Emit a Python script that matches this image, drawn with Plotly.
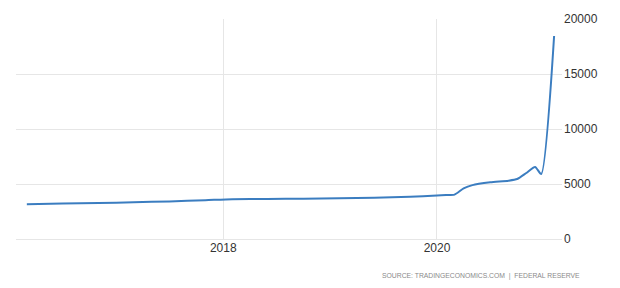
import plotly.graph_objects as go

dates = ["2016-03-01", "2016-07-01", "2016-11-01", "2017-03-01", "2017-07-01", "2017-11-01",
         "2018-02-01", "2018-06-01", "2018-10-01", "2019-02-01", "2019-06-01", "2019-10-01",
         "2020-01-01", "2020-02-01", "2020-03-01", "2020-04-01", "2020-05-01", "2020-07-01",
         "2020-09-01", "2020-10-01", "2020-11-01", "2020-12-01", "2020-12-22", "2021-02-04"]
values = [3170, 3220, 3270, 3340, 3420, 3530,
          3620, 3640, 3660, 3700, 3740, 3850,
          3950, 3990, 4030, 4600, 4900, 5150,
          5300, 5450, 6000, 6550, 5900, 18450]

x_ticks = ["2018-01-01", "2020-01-01"]
x_tick_labels = ["2018", "2020"]
y_ticks = [0, 5000, 10000, 15000, 20000]
source_text = "SOURCE: TRADINGECONOMICS.COM  |  FEDERAL RESERVE"

fig = go.Figure()
fig.add_trace(go.Scatter(x=dates, y=values, mode="lines",
                         line=dict(color="#3b7dc0", width=2, shape="spline", smoothing=0.6),
                         hoverinfo="skip"))

fig.update_layout(
    width=620, height=288,
    margin=dict(l=16, r=58, t=16, b=49),
    paper_bgcolor="white", plot_bgcolor="white",
    showlegend=False,
    font=dict(family="Liberation Sans, Arial, sans-serif", size=12, color="#333333"),
)
fig.update_xaxes(
    range=["2016-01-24", "2021-03-03"],
    tickvals=x_ticks, ticktext=x_tick_labels,
    showgrid=True, gridcolor="#e6e6e6", gridwidth=1,
    zeroline=False, showline=False, ticks="",
)
fig.update_yaxes(
    side="right", range=[0, 20000], tickvals=y_ticks, tickformat="d",
    showgrid=True, gridcolor="#e6e6e6", gridwidth=1,
    zeroline=True, zerolinecolor="#e6e6e6", zerolinewidth=1,
    showline=False, ticks="", ticklabelstandoff=1,
)
fig.add_annotation(text=source_text, xref="paper", yref="paper",
                   x=(582 - 16) / (620 - 16 - 58), y=-(276 - 239) / (288 - 16 - 49),
                   xanchor="right", yanchor="middle", showarrow=False,
                   font=dict(size=6.8, color="#8a8a8a",
                             family="Liberation Sans, Arial, sans-serif"))

fig.write_html("out.html")
